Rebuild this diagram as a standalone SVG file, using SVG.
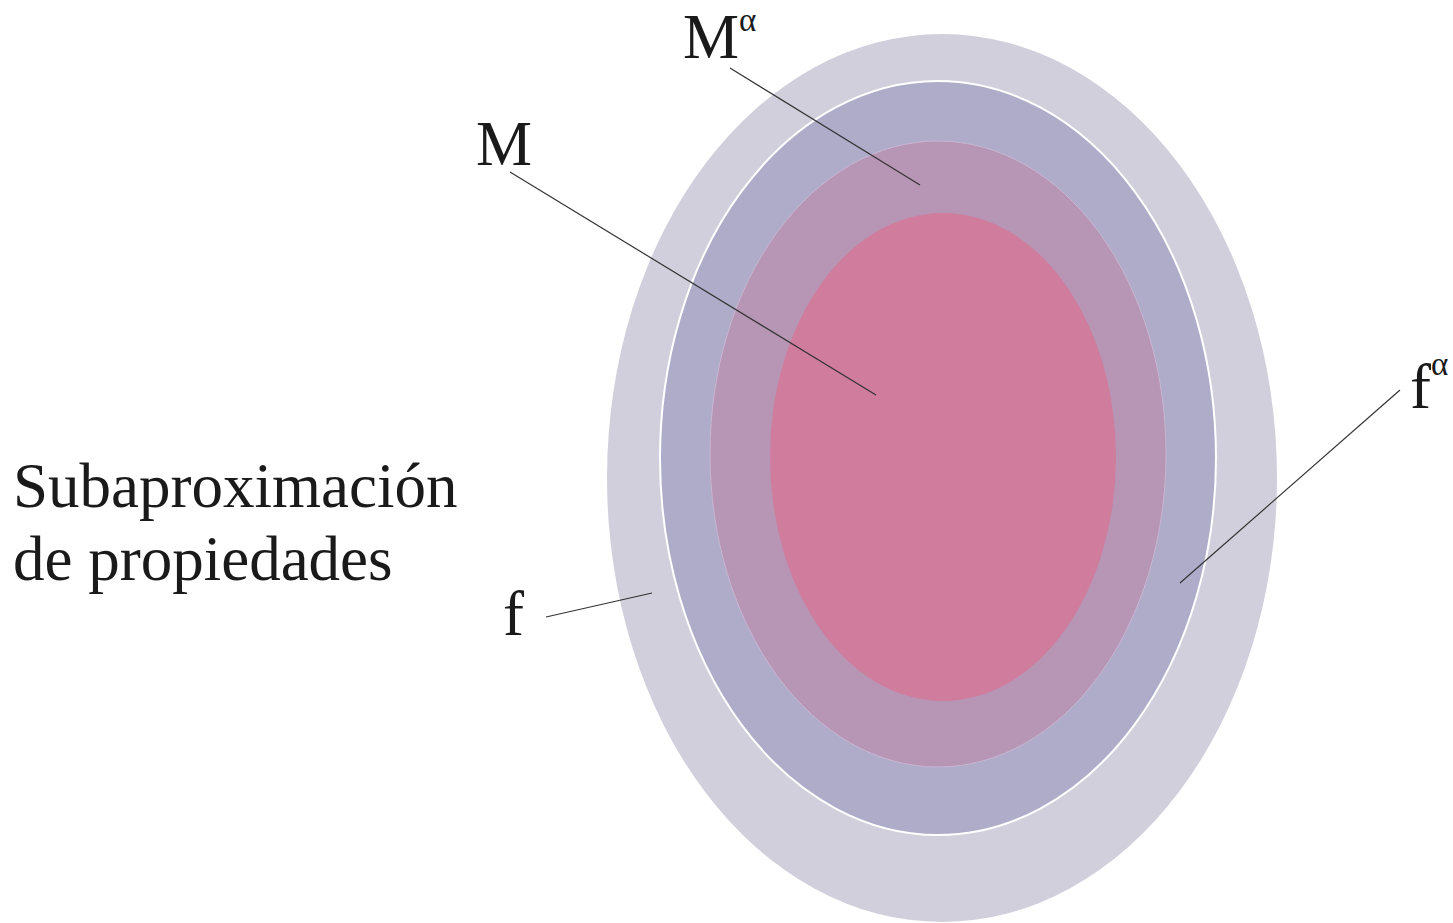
<svg xmlns="http://www.w3.org/2000/svg" width="1453" height="923" viewBox="0 0 1453 923">
<style>
text{font-family:"Liberation Serif","Times New Roman",serif;fill:#1a1a1a;font-size:63px}
.sup{font-size:33px}
.ld{stroke:#333;stroke-width:1.2;fill:none}
</style>
<rect width="1453" height="923" fill="#fff"/>
<g id="f-outer"><ellipse cx="942" cy="478" rx="335" ry="444" fill="#D2CFDC"/></g>
<g id="f-alpha"><ellipse cx="938" cy="458" rx="278" ry="377" fill="#AEACC9" stroke="#fff" stroke-width="2"/></g>
<g id="M-alpha"><ellipse cx="938" cy="454" rx="228" ry="313" fill="#B795B5" stroke="#c9b6d2" stroke-width="1"/></g>
<g id="M"><ellipse cx="943" cy="457" rx="173" ry="244" fill="#D07C9C"/></g>
<g id="connectors">
<line class="ld" x1="730" y1="68" x2="920" y2="185"/>
<line class="ld" x1="510" y1="172" x2="876" y2="395"/>
<line class="ld" x1="546" y1="617" x2="652" y2="593"/>
<line class="ld" x1="1400" y1="390" x2="1180" y2="583"/>
</g>
<g id="labels">
<text x="683" y="58">M<tspan class="sup" dy="-27">α</tspan></text>
<text x="476" y="165">M</text>
<text x="1410" y="408">f<tspan class="sup" dy="-33">α</tspan></text>
<text x="503" y="635">f</text>
<text x="13" y="507">Subaproximación</text>
<text x="13" y="580">de propiedades</text>
</g>
</svg>
